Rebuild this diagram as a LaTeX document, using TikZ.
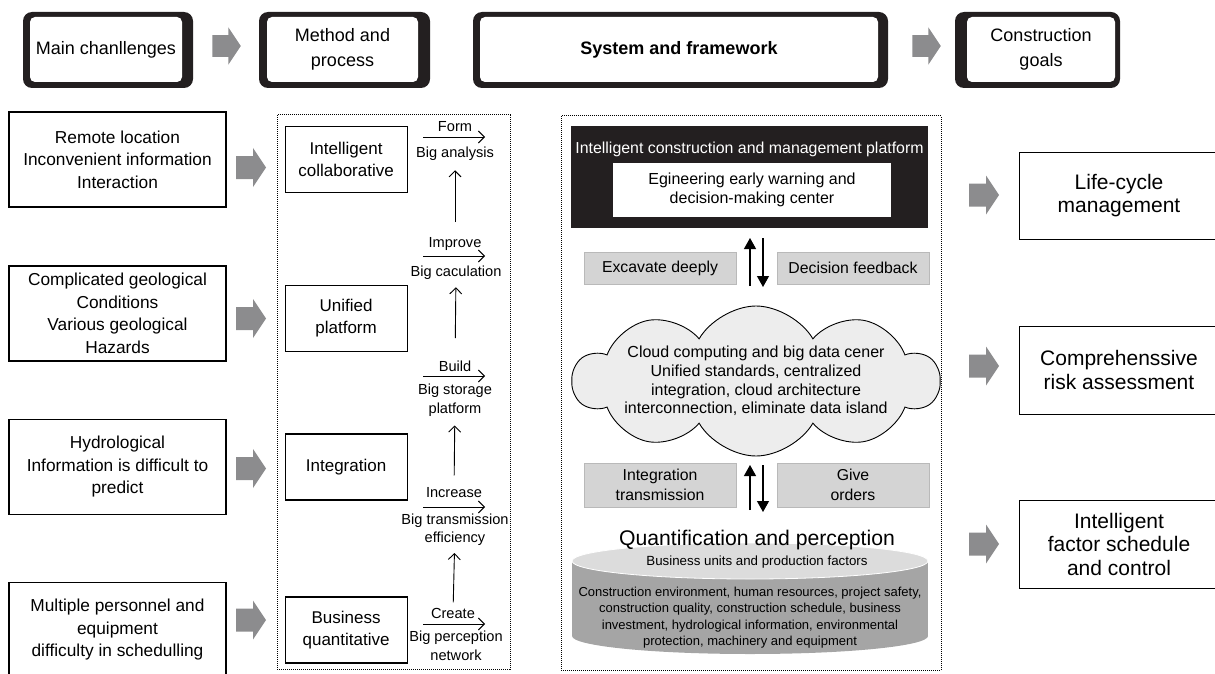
\documentclass[tikz,border=0pt]{standalone}
\usepackage{fontspec}
\setmainfont{Liberation Sans}
\usetikzlibrary{arrows.meta,positioning,shapes.symbols}

\definecolor{hdrblack}{HTML}{231F20}
\definecolor{arrgray}{HTML}{8C8C8E}
\definecolor{boxgray}{HTML}{D4D4D4}
\definecolor{boxedge}{HTML}{B9B9B9}
\definecolor{cloudgray}{HTML}{EDEDED}
\definecolor{cyltop}{HTML}{DCDCDC}
\definecolor{cylbody}{HTML}{A5A5A5}

\newcommand{\fsz}[2]{\fontsize{#1}{#2}\selectfont}

\begin{document}
\begin{tikzpicture}[
    x = 1pt, y = -1pt, % one unit per pixel, y runs down
    line width = 0.9pt,
    hdrback/.style = {fill=hdrblack, rounded corners=9pt, inner sep=0pt},
    hdr/.style = {fill=white, rounded corners=5pt, inner sep=0pt, align=center,
        minimum height=65pt, font=\fsz{18}{25}},
    lbox/.style = {draw, line width=1.1pt, inner sep=0pt, align=center,
        minimum width=217pt, minimum height=95pt, font=\fsz{17.3}{22.5}},
    mbox/.style = {draw, line width=1.1pt, inner sep=0pt, align=center,
        minimum width=122pt, minimum height=66pt, font=\fsz{17}{22}},
    lbl/.style = {inner sep=0pt, align=center, font=\fsz{14.6}{18.5}},
    thinarr/.style = {-{Straight Barb[length=6pt,width=12pt]}, line width=0.9pt},
    dotbox/.style = {draw, densely dotted, line width=1pt, inner sep=0pt},
    gbox/.style = {fill=boxgray, draw=boxedge, inner sep=0pt, align=center,
        minimum width=152pt, font=\fsz{15.8}{20}},
    fatarr/.style = {-{Triangle[length=11pt,width=12pt]}, line width=1.2pt},
    rbox/.style = {draw, line width=0.9pt, inner sep=0pt, align=center,
        minimum width=200pt, minimum height=87pt, font=\fsz{21}{23.5}},
    blockarr/.pic = {\fill[arrgray] (-15,-11.5) -- (2,-11.5) -- (2,-19.5)
        -- (15,0) -- (2,19.5) -- (2,11.5) -- (-15,11.5) -- cycle;}
    ]

    \useasboundingbox (0,0) rectangle (1215,674);

    % header row
    \node[hdrback, minimum width=170pt, minimum height=76pt] (h1b) at (108,50) {};
    \node[hdr, minimum width=152pt] (h1) at (106,49.5) {Main chanllenges};
    \node[hdrback, minimum width=171pt, minimum height=76pt] (h2b) at (344.5,50) {};
    \node[hdr, minimum width=151pt] (h2) at (342.5,49.5) {Method and\\process};
    \node[hdrback, minimum width=415pt, minimum height=76pt] (h3b) at (680.5,50) {};
    \node[hdr, minimum width=398pt, font=\fsz{18}{25}\bfseries] (h3) at (679,49.5) {System and framework};
    \node[hdrback, minimum width=165pt, minimum height=76pt] (h4b) at (1037.5,50) {};
    \node[hdr, minimum width=148pt] (h4) at (1041,49.5) {Construction\\goals};
    \pic[scale=0.95] at (226.5,46) {blockarr};
    \pic[scale=0.95] at (926.5,46) {blockarr};

    % main challenges
    \node[lbox] (l1) at (117.5,159.5) {Remote location\\Inconvenient information\\Interaction};
    \node[lbox] (l2) at (117.5,313.5) {Complicated geological\\Conditions\\Various geological\\Hazards};
    \node[lbox] (l3) at (117.5,467) {Hydrological\\Information is difficult to\\predict};
    \node[lbox] (l4) at (117.5,630) {Multiple personnel and\\equipment\\difficulty in schedulling};
    \foreach \y in {167.5,318.5,468.5,620}
        \pic at (251,\y) {blockarr};

    % method and process
    \node[dotbox, minimum width=233pt, minimum height=554pt] (mframe) at (393.5,392) {};
    \node[mbox] (m1) [right=58pt of l1] {Intelligent\\collaborative};
    \node[mbox] (m2) [right=58pt of l2, yshift=-5pt] {Unified\\platform};
    \node[mbox] (m3) [right=58pt of l3] {Integration};
    \node[mbox] (m4) [right=58pt of l4] {Business\\quantitative};

    \node[lbl] (form) at (455,127) {Form};
    \node[lbl] (bigana) at (455,154) {Big analysis};
    \node[lbl] (improve) at (455,244) {Improve};
    \node[lbl] (bigcal) at (456,273) {Big caculation};
    \node[lbl] (build) at (455,366) {Build};
    \node[lbl] (bigsto) at (455,400) {Big storage\\platform};
    \node[lbl] (increase) at (454,493) {Increase};
    \node[lbl] (bigtra) at (455,529.5) {Big transmission\\efficiency};
    \node[lbl] (create) at (453,613) {Create};
    \node[lbl] (bigper) at (456,646) {Big perception\\network};

    \coordinate (fa1) at (423,137);  \coordinate (fb1) at (485,137);
    \coordinate (fa2) at (423,256);  \coordinate (fb2) at (485,256);
    \coordinate (fa3) at (423,376);  \coordinate (fb3) at (485,376);
    \coordinate (fa4) at (423,507);  \coordinate (fb4) at (485,507);
    \coordinate (fa5) at (423,624);  \coordinate (fb5) at (485,624);
    \foreach \i in {1,...,5}
        \draw[thinarr] (fa\i) -- (fb\i);

    \draw[thinarr, shorten <=15pt, shorten >=9pt] (improve) -- (bigana);
    \draw[thinarr, shorten <=22pt, shorten >=7pt] (build) -- (bigcal);
    \draw[thinarr, shorten <=12pt, shorten >=9pt] (increase) -- (bigsto);
    \draw[thinarr, shorten <=5pt, shorten >=7pt] (create) -- (bigtra);

    % system and framework
    \node[dotbox, minimum width=380pt, minimum height=554pt] (sframe) at (751,393) {};
    \node[fill=hdrblack, inner sep=0pt, minimum width=357pt, minimum height=102pt] (plat) at (749.5,177) {};
    \node[text=white, inner sep=0pt, font=\fsz{15.9}{19}] (plattitle) at (749.5,149)
        {Intelligent construction and management platform};
    \node[fill=white, inner sep=0pt, align=center, minimum width=278pt, minimum height=54pt,
        font=\fsz{16}{19}] (warn) at (752,190) {Egineering early warning and\\decision-making center};

    \node[gbox, minimum height=32pt] (excav) at (660,268) {Excavate deeply};
    \node[gbox, minimum height=32pt] (feedb) at (853,268) {Decision feedback};
    \coordinate (u1s) at (750,286);  \coordinate (u1e) at (750,238);
    \coordinate (d1s) at (763,238);  \coordinate (d1e) at (763,287);
    \draw[fatarr] (u1s) -- (u1e);
    \draw[fatarr] (d1s) -- (d1e);

    \node[cloud, cloud puffs=10, cloud puff arc=120, aspect=2.4, fill=cloudgray, draw,
        line width=0.9pt, inner sep=0pt, minimum width=366pt, minimum height=150pt] (cloud) at (756,381) {};
    \node[inner sep=0pt, align=center, font=\fsz{16}{18.7}] (cloudtxt) at (756,381)
        {Cloud computing and big data cener\\Unified standards, centralized\\integration, cloud architecture\\interconnection, eliminate data island};

    \node[gbox, minimum height=44pt] (integ) at (660,485) {Integration\\transmission};
    \node[gbox, minimum height=44pt] (orders) at (853,485) {Give\\orders};
    \coordinate (u2s) at (750,510);  \coordinate (u2e) at (750,465);
    \coordinate (d2s) at (763,465);  \coordinate (d2e) at (763,512);
    \draw[fatarr] (u2s) -- (u2e);
    \draw[fatarr] (d2s) -- (d2e);

    % data cylinder
    \fill[cylbody] (572,561) rectangle (928,636);
    \fill[cylbody] (750,636) ellipse [x radius=178, y radius=18];
    \filldraw[fill=cyltop, draw=white, line width=0.8pt] (750,561) ellipse [x radius=178, y radius=18];
    \node[inner sep=0pt, font=\fsz{21.2}{24}] (quant) at (757,540) {Quantification and perception};
    \node[inner sep=0pt, font=\fsz{13.3}{16}] (units) at (757,562) {Business units and production factors};
    \node[inner sep=0pt, align=center, font=\fsz{13}{16.3}] (factors) at (750,617.5)
        {Construction environment, human resources, project safety,\\construction quality, construction schedule, business\\investment, hydrological information, environmental\\protection, machinery and equipment};

    % construction goals
    \foreach \y in {195,366,544}
        \pic at (984,\y) {blockarr};
    \node[rbox] (goal1) at (1119,195.5) {Life-cycle\\management};
    \node[rbox, minimum height=88pt] (goal2) at (1119,370) {Comprehenssive\\risk assessment};
    \node[rbox, minimum height=88pt] (goal3) at (1119,544) {Intelligent\\factor schedule\\and control};
\end{tikzpicture}
\end{document}
